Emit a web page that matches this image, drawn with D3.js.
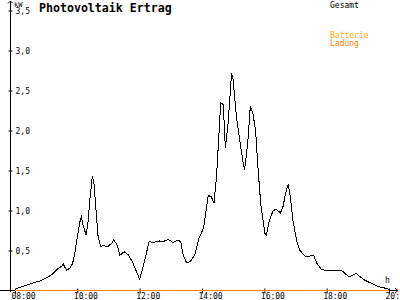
<!DOCTYPE html>
<html>
<head>
<meta charset="utf-8">
<script src="https://cdn.jsdelivr.net/npm/d3@7"></script>
<style>
  body { margin: 0; background: #fff; }
  text { font-family: "DejaVu Sans Mono", monospace; }
</style>
</head>
<body>
<div id="chart"></div>
<script>
// values
const times = ["08:00","08:10","08:19","08:33","08:48","09:04","09:14","09:21","09:30","09:33",
  "09:39","09:46","09:51","09:55","10:00","10:05","10:08","10:11","10:17","10:21",
  "10:24","10:29","10:32","10:37","10:40","10:45","10:50","10:59","11:06","11:10",
  "11:16","11:22","11:30","11:38","11:46","11:54","12:00","12:10","12:18","12:26",
  "12:39","12:45","12:55","13:04","13:14","13:19","13:24","13:30","13:37","13:46",
  "13:54","14:03","14:12","14:18","14:23","14:28","14:36","14:41","14:45","14:50",
  "14:57","15:00","15:06","15:13","15:19","15:22","15:28","15:33","15:38","15:43",
  "15:48","15:53","16:01","16:04","16:09","16:17","16:23","16:31","16:36","16:41",
  "16:46","16:50","16:55","17:02","17:08","17:18","17:27","17:35","17:41","17:50",
  "17:59","18:12","18:28","18:35","18:43","18:51","18:57","19:03","19:13","19:26",
  "19:39","19:52","20:00"];
const gesamt = [0.015,0.04,0.06,0.09,0.12,0.17,0.215,0.265,0.305,0.33,
  0.255,0.28,0.34,0.465,0.665,0.86,0.92,0.82,0.69,0.88,
  1.13,1.435,1.34,0.92,0.67,0.55,0.56,0.55,0.59,0.63,
  0.58,0.44,0.485,0.445,0.36,0.235,0.14,0.38,0.61,0.60,
  0.62,0.61,0.64,0.60,0.63,0.61,0.44,0.35,0.36,0.44,
  0.65,0.78,1.19,1.17,1.09,1.42,2.35,2.32,1.78,2.07,
  2.72,2.63,2.19,1.86,1.61,1.51,1.84,2.30,2.21,2.01,
  1.51,1.09,0.715,0.69,0.86,1.0,1.015,0.97,1.05,1.215,
  1.33,1.17,0.88,0.63,0.505,0.43,0.43,0.44,0.34,0.265,
  0.25,0.255,0.255,0.215,0.17,0.195,0.215,0.18,0.13,0.09,
  0.05,0.03,0.015];
const batterieTimes = ["08:00","20:00"];
const batterie = [0, 0];
const ladungTimes = ["08:00","20:00"];
const ladung = [0, 0];
const xTicks = ["08:00","10:00","12:00","14:00","16:00","18:00","20:00"];
const yTicks = [0.5, 1.0, 1.5, 2.0, 2.5, 3.0, 3.5];

const width = 400;
const height = 300;
const parse = d3.timeParse("%H:%M");

const svg = d3.select("#chart")
    .append("svg")
    .attr("width", width)
    .attr("height", height);

const x = d3.scaleTime()
    .domain([parse("08:00"), parse("20:00")])
    .range([15, 389]);

const y = d3.scaleLinear()
    .domain([0, 3.5])
    .range([290.5, 10.5]);

// y axis (labels on the right side of the line, cross ticks)
const yAxis = svg.append("g")
    .attr("transform", "translate(10.5,0)")
    .call(d3.axisRight(y).tickValues(yTicks).tickSize(2).tickPadding(3)
        .tickFormat(d => d3.format(".1f")(d).replace(".", ",")));
yAxis.select(".domain").remove();
yAxis.selectAll(".tick line").attr("x1", -2).attr("x2", 2).attr("stroke", "#000");
yAxis.selectAll(".tick text").attr("font-size", 8).attr("font-family", "DejaVu Sans Mono").attr("fill", "#000");
yAxis.append("line").attr("x1", 0).attr("x2", 0).attr("y1", 1).attr("y2", 292).attr("stroke", "#000");
yAxis.append("path").attr("d", "M-2.5,3.5L0,1L2.5,3.5").attr("fill", "none").attr("stroke", "#000");

// x axis
const xAxis = svg.append("g")
    .attr("transform", "translate(0,290.5)")
    .call(d3.axisBottom(x).tickValues(xTicks.map(parse)).tickSize(3).tickPadding(2)
        .tickFormat(d3.timeFormat("%H:%M")));
xAxis.select(".domain").remove();
xAxis.selectAll(".tick line").attr("y1", -2).attr("y2", 3).attr("stroke", "#000");
xAxis.selectAll(".tick text")
    .attr("font-size", 8).attr("font-family", "DejaVu Sans Mono").attr("fill", "#000")
    .attr("text-anchor", "start").attr("x", -4).attr("y", 3).attr("dy", "0.71em");
xAxis.append("line").attr("x1", 0).attr("x2", 398).attr("y1", 0).attr("y2", 0).attr("stroke", "#000");
xAxis.append("path").attr("d", "M395,-2.5L398,0L395,2.5").attr("fill", "none").attr("stroke", "#000");

const line = d3.line()
    .x(d => x(d[0]))
    .y(d => y(d[1]));

svg.append("path")
    .datum(batterieTimes.map((t, i) => [parse(t), batterie[i]]))
    .attr("fill", "none")
    .attr("stroke", "#ffb000")
    .attr("d", line);

svg.append("path")
    .datum(ladungTimes.map((t, i) => [parse(t), ladung[i]]))
    .attr("fill", "none")
    .attr("stroke", "#ff8000")
    .attr("stroke-width", 1)
    .attr("d", line);

svg.append("path")
    .datum(times.map((t, i) => [parse(t), gesamt[i]]))
    .attr("fill", "none")
    .attr("stroke", "#000")
    .attr("stroke-width", 1)
    .attr("shape-rendering", "crispEdges")
    .attr("d", line);

// texts
svg.append("text").attr("x", 39).attr("y", 12)
    .attr("font-size", 11.6).attr("font-weight", "bold").text("Photovoltaik Ertrag");
svg.append("text").attr("x", 14).attr("y", 6.5).attr("font-size", 7).text("kW");
svg.append("text").attr("x", 385).attr("y", 283).attr("font-size", 8).text("h");
svg.append("text").attr("x", 330).attr("y", 8).attr("font-size", 8).attr("fill", "#000").text("Gesamt");
svg.append("text").attr("x", 330).attr("y", 38).attr("font-size", 8).attr("fill", "#ffb000").text("Batterie");
svg.append("text").attr("x", 330).attr("y", 46).attr("font-size", 8).attr("fill", "#ff8000").text("Ladung");
</script>
</body>
</html>
